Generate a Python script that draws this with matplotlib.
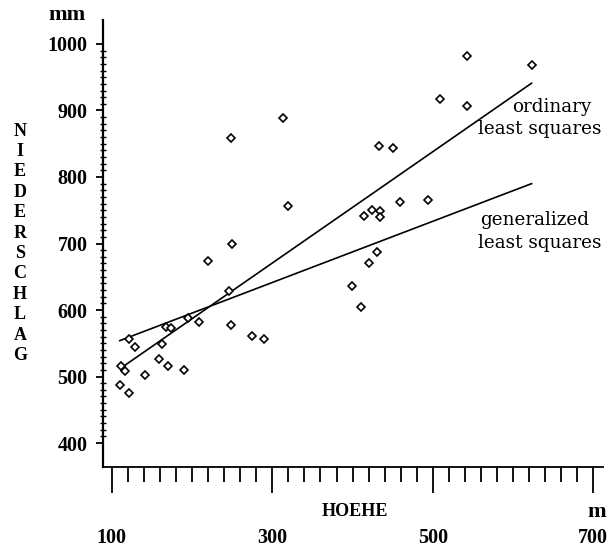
import matplotlib.pyplot as plt
from matplotlib.ticker import FixedLocator

# altitude (m) and precipitation (mm)
hoehe = [313, 248, 319, 250, 220, 246, 121, 129, 167, 174,
         195, 209, 248, 275, 289, 163, 159, 170, 190, 141,
         112, 117, 110, 122, 543, 624, 509, 542, 433, 450,
         459, 494, 414, 424, 434, 434, 430, 420, 399, 410]
niederschlag = [889, 858, 756, 699, 673, 628, 556, 544, 574, 573,
                588, 582, 577, 561, 557, 549, 527, 516, 510, 503,
                516, 508, 488, 476, 982, 968, 917, 907, 846, 843,
                762, 766, 742, 751, 749, 740, 687, 670, 636, 605]

# fitted lines (end points)
ols_x = [114, 623]
ols_y = [515, 941]
gls_x = [110, 623]
gls_y = [554, 790]

x_major = [100, 300, 500, 700]
x_minor = [v for v in range(120, 700, 20) if v not in x_major]
y_major = [400, 500, 600, 700, 800, 900, 1000]
y_minor = [v for v in range(410, 1000, 10) if v % 100 != 0]

W, H = 616, 547
fig = plt.figure(figsize=(W / 100, H / 100), dpi=100)
ax = fig.add_axes([103 / W, 1 - 467 / H, 500 / W, 447 / H])

ax.plot(ols_x, ols_y, color='black', lw=1.2)
ax.plot(gls_x, gls_y, color='black', lw=1.2)
ax.plot(hoehe, niederschlag, 'D', ms=3.6, mfc='white', mec='black', mew=1.2)

ax.set_xlim(89, 712)
ax.set_ylim(364, 1036)

for s in ['top', 'right']:
    ax.spines[s].set_visible(False)
ax.spines['left'].set_linewidth(1.6)
ax.spines['bottom'].set_linewidth(1.3)

tick_font = {'family': 'Liberation Serif', 'weight': 'bold', 'size': 14.5}

ax.xaxis.set_major_locator(FixedLocator(x_major))
ax.xaxis.set_minor_locator(FixedLocator(x_minor))
ax.set_xticklabels([str(v) for v in x_major], fontdict=tick_font)
ax.tick_params(axis='x', which='major', direction='out', length=19, width=1.3, pad=25)
ax.tick_params(axis='x', which='minor', direction='out', length=11, width=1.3)

ax.yaxis.set_major_locator(FixedLocator(y_major))
ax.yaxis.set_minor_locator(FixedLocator(y_minor))
ax.set_yticklabels([str(v) for v in y_major], fontdict=tick_font)
ax.tick_params(axis='y', which='major', direction='out', length=5, width=1.3, pad=6)
ax.tick_params(axis='y', which='minor', direction='inout', length=4, width=1.0)

lab_font = {'family': 'Liberation Serif', 'weight': 'bold', 'size': 13}
fig.text(67 / W, 1 - 15 / H, 'mm', ha='center', va='center',
         fontdict={'family': 'Liberation Serif', 'weight': 'bold', 'size': 16})
fig.text(355 / W, 1 - 512 / H, 'HOEHE', ha='center', va='center', fontdict=lab_font)
fig.text(597 / W, 1 - 512 / H, 'm', ha='center', va='center',
         fontdict={'family': 'Liberation Serif', 'weight': 'bold', 'size': 16})
for i, ch in enumerate('NIEDERSCHLAG'):
    fig.text(20 / W, 1 - (131 + i * 20.4) / H, ch, ha='center', va='center', fontdict=lab_font)

ann_font = {'family': 'DejaVu Serif', 'size': 13.2}
fig.text(512 / W, 1 - 107 / H, 'ordinary', ha='left', va='center', fontdict=ann_font)
fig.text(478 / W, 1 - 129 / H, 'least squares', ha='left', va='center', fontdict=ann_font)
fig.text(480 / W, 1 - 220 / H, 'generalized', ha='left', va='center', fontdict=ann_font)
fig.text(478 / W, 1 - 243 / H, 'least squares', ha='left', va='center', fontdict=ann_font)

fig.savefig('out.png', dpi=100, facecolor='white')
